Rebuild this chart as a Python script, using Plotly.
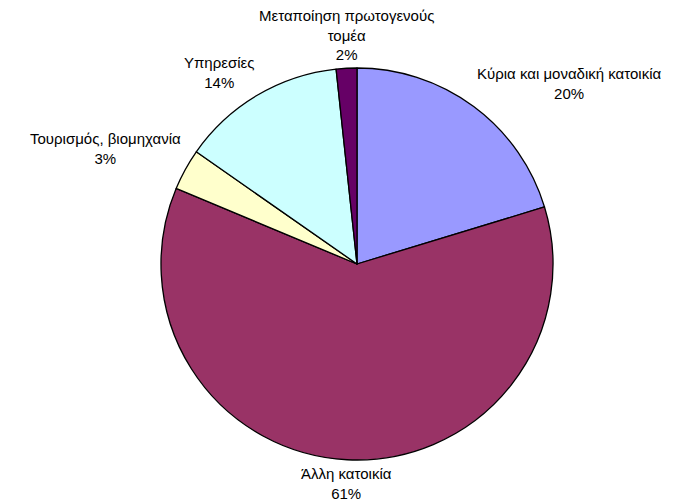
import math
import plotly.graph_objects as go

labels = ["Κύρια και μοναδική κατοικία", "Άλλη κατοικία", "Τουρισμός, βιομηχανία",
          "Υπηρεσίες", "Μεταποίηση πρωτογενούς<br>τομέα"]
values = [20.3, 61.0, 3.4, 13.6, 1.7]
colors = ["#9999FF", "#993366", "#FFFFCC", "#CCFFFF", "#660066"]

W, H = 682, 504
dom_x = [153 / W, 545 / W]
dom_y = [52 / H, 444 / H]

fig = go.Figure(go.Pie(
    labels=labels, values=values, sort=False, direction="clockwise", rotation=0,
    marker=dict(colors=colors, line=dict(color="black", width=1.3)),
    textinfo="none", hole=0, showlegend=False,
    domain=dict(x=dom_x, y=dom_y),
))

# labels placed just outside each slice, at the slice's mid-angle
R = min((dom_x[1] - dom_x[0]) * W, (dom_y[1] - dom_y[0]) * H) / 2
cx = (dom_x[0] + dom_x[1]) / 2
cy = (dom_y[0] + dom_y[1]) / 2
total = sum(values)
cum = 0
for lab, v in zip(labels, values):
    mid = (cum + v / 2) / total * 2 * math.pi
    cum += v
    s, c = math.sin(mid), math.cos(mid)
    d = R + 4
    xa = "left" if s > 0.3 else ("right" if s < -0.3 else "center")
    ya = "bottom" if c > 0 else "top"
    fig.add_annotation(
        x=cx + d * s / W, y=cy + d * c / H, xref="paper", yref="paper",
        text=f"{lab}<br>{round(v / total * 100)}%", showarrow=False,
        xanchor=xa, yanchor=ya, align="center", borderpad=0,
        font=dict(family="Liberation Sans, Arial", size=15, color="black"),
    )

fig.update_layout(width=W, height=H, margin=dict(l=0, r=0, t=0, b=0),
                  paper_bgcolor="white", plot_bgcolor="white")
fig.write_html("out.html")
